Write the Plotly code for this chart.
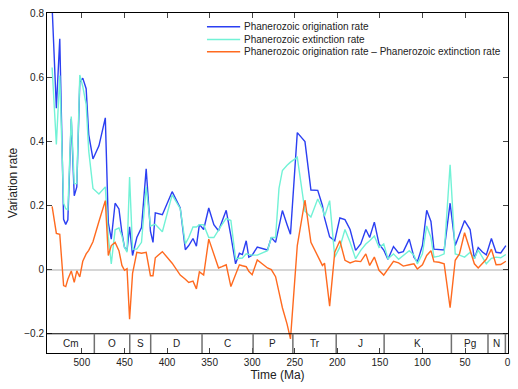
import plotly.graph_objects as go

# Time (Ma) of each stage, oldest first
time_ma = [535, 530, 526, 521.5, 519, 516.5, 512.5, 509, 506, 502.5, 499, 495, 492, 487, 480,
           472.5, 469, 465.5, 461, 456.5, 453, 450, 447, 444, 440.5, 435.5, 430, 424.5, 419.5,
           416.5, 413.8, 405.5, 394, 384.5, 378.5, 374.5, 369.5, 365.5, 362, 357, 351, 345,
           339.5, 335.5, 330.5, 325, 319.5, 315, 311.5, 307, 304, 300, 294, 282, 277.5, 272.5,
           268.5, 264.5, 259, 255, 247, 238, 231, 223, 217.5, 215, 209, 203, 197, 191, 185,
           178.5, 172.5, 166.5, 162, 156.5, 151, 145.5, 140.5, 134, 128, 122.5, 115.5, 110, 106,
           100, 95, 90, 86.5, 80.5, 74.5, 67.5, 61.5, 56.5, 50.5, 44, 39, 34.5, 29.5, 25, 19,
           13.5, 8, 2]

origination = [0.82, 0.503, 0.72, 0.157, 0.141, 0.155, 0.47, 0.23, 0.258, 0.585, 0.597, 0.564,
               0.421, 0.345, 0.386, 0.473, 0.146, 0.095, 0.207, 0.189, 0.115, 0.07, 0.059, 0.133,
               0.044, 0.10, 0.131, 0.314, 0.12, 0.085, 0.177, 0.171, 0.243, 0.192, 0.062, 0.075,
               0.097, 0.073, 0.141, 0.125, 0.192, 0.14, 0.121, 0.15, 0.185, 0.105, 0.018, 0.051,
               0.047, 0.09, 0.039, 0.045, 0.07, 0.061, 0.10, 0.085, 0.136, 0.184, 0.14, 0.11,
               0.427, 0.399, 0.248, 0.247, 0.2, 0.161, 0.102, 0.09, 0.161, 0.156, 0.125, 0.06,
               0.08, 0.125, 0.1, 0.148, 0.08, 0.061, 0.032, 0.072, 0.052, 0.056, 0.095, 0.039,
               0.024, 0.075, 0.185, 0.15, 0.064, 0.062, 0.061, 0.207, 0.075, 0.11, 0.153, 0.125,
               0.034, 0.069, 0.055, 0.046, 0.097, 0.054, 0.052, 0.075]

extinction = [0.63, 0.39, 0.605, 0.207, 0.19, 0.187, 0.477, 0.268, 0.268, 0.607, 0.571, 0.515,
              0.37, 0.253, 0.236, 0.258, 0.102, 0.018, 0.124, 0.13, 0.105, 0.07, 0.054, 0.289,
              0.064, 0.064, 0.085, 0.258, 0.136, 0.138, 0.141, 0.118, 0.233, 0.19, 0.08, 0.1,
              0.133, 0.133, 0.14, 0.14, 0.1, 0.1, 0.125, 0.14, 0.16, 0.153, 0.034, 0.036, 0.036,
              0.049, 0.047, 0.045, 0.045, 0.059, 0.1, 0.1, 0.253, 0.309, 0.325, 0.335, 0.35,
              0.182, 0.164, 0.22, 0.19, 0.166, 0.215, 0.039, 0.07, 0.125, 0.085, 0.034, 0.06,
              0.08, 0.09, 0.105, 0.069, 0.08, 0.034, 0.049, 0.032, 0.045, 0.059, 0.045, 0.018,
              0.049, 0.136, 0.1, 0.039, 0.042, 0.049, 0.327, 0.049, 0.045, 0.039, 0.054, 0.034,
              0.061, 0.04, 0.018, 0.035, 0.039, 0.037, 0.047]

difference = [0.197, 0.113, 0.110, -0.05, -0.053, -0.03, -0.004, -0.04, -0.004, -0.023, 0.026,
              0.049, 0.06, 0.087, 0.15, 0.215, 0.044, 0.075, 0.085, 0.059, 0.013, -0.002, 0.003,
              -0.155, -0.012, 0.054, 0.051, 0.054, -0.019, -0.019, 0.037, 0.056, 0.02, -0.017,
              -0.03, -0.04, -0.036, -0.06, -0.007, -0.017, 0.095, 0.049, 0.005, 0.009, 0.015,
              -0.053, -0.012, 0.015, 0.012, 0.009, -0.005, -0.016, 0.03, 0.005, 0.0, -0.022,
              -0.07, -0.119, -0.17, -0.216, 0.075, 0.217, 0.085, 0.044, 0.013, 0.02, -0.114,
              0.054, 0.09, 0.029, 0.021, 0.027, 0.025, 0.049, 0.013, 0.039, -0.002, -0.017,
              0.002, 0.026, 0.021, 0.011, 0.015, 0.018, 0.002, 0.015, 0.044, 0.059, 0.025, 0.023,
              0.018, -0.119, 0.029, 0.049, 0.115, 0.064, 0.018, 0.005, 0.021, 0.032, 0.064,
              0.015, 0.016, 0.026]

# Geologic periods
period_bounds = [541, 485.4, 443.8, 419.2, 358.9, 298.9, 252.2, 201.3, 145.0, 66.0, 23.0, 2.58, 0]
period_labels = ['Cm', 'O', 'S', 'D', 'C', 'P', 'Tr', 'J', 'K', 'Pg', 'N', '']

series_names = ['Phanerozoic origination rate',
                'Phanerozoic extinction rate',
                'Phanerozoic origination rate \u2013 Phanerozoic extinction rate']
colors = ['#2b3ff2', '#72f2d6', '#ff6a1f']

Y_MIN, BAND_TOP = -0.26, -0.2
FONT = 'Liberation Sans, Arial, sans-serif'

fig = go.Figure()
for name, ys, c in zip(series_names, [origination, extinction, difference], colors):
    fig.add_trace(go.Scatter(x=time_ma, y=ys, mode='lines', name=name,
                             line=dict(color=c, width=1.4), showlegend=False))

# --- period band at the bottom ---
fig.add_shape(type='line', x0=period_bounds[0], x1=period_bounds[-1], y0=BAND_TOP, y1=BAND_TOP,
              line=dict(color='black', width=1))
for b in period_bounds[1:-1]:
    fig.add_shape(type='line', x0=b, x1=b, y0=Y_MIN, y1=BAND_TOP,
                  line=dict(color='#707070', width=1.5))
for lo, hi, lab in zip(period_bounds[:-1], period_bounds[1:], period_labels):
    if lab:
        fig.add_annotation(x=(lo + hi) / 2, y=(Y_MIN + BAND_TOP) / 2, text=lab, showarrow=False,
                           font=dict(size=10, color='#222'))

# --- legend drawn by hand (tight spacing) ---
leg_y = [0.9595, 0.922, 0.886]
for name, c, ly in zip(series_names, colors, leg_y):
    fig.add_shape(type='line', xref='paper', yref='paper', x0=0.347, x1=0.419, y0=ly, y1=ly,
                  line=dict(color=c, width=1.4))
    fig.add_annotation(xref='paper', yref='paper', x=0.422, y=ly, text=name, showarrow=False,
                       xanchor='left', yanchor='middle', font=dict(size=10, color='#222'))

fig.update_xaxes(range=[541, -0.5], tickvals=list(range(0, 501, 50)), ticks='inside', ticklen=5,
                 showline=True, linecolor='black', mirror='ticks', showgrid=False, zeroline=False,
                 title=dict(text='Time (Ma)', standoff=1), tickfont=dict(size=10))
fig.update_yaxes(range=[Y_MIN, 0.8], tickvals=[-0.2, 0, 0.2, 0.4, 0.6, 0.8], ticks='inside',
                 ticklen=5, showline=True, linecolor='black', mirror='ticks', showgrid=False,
                 zeroline=True, zerolinecolor='#d6d6d6', zerolinewidth=1.5,
                 title=dict(text='Variation rate', standoff=4), tickfont=dict(size=10))
fig.update_layout(width=518, height=389, margin=dict(l=47, r=10, t=7, b=36),
                  plot_bgcolor='white', paper_bgcolor='white',
                  font=dict(family=FONT, size=10, color='#222'))

# page body has a default 8px margin; drop it so the figure sits at the window origin
fig.write_html("out.html", config={'displayModeBar': False},
               post_script="document.body.style.margin='0px';")
